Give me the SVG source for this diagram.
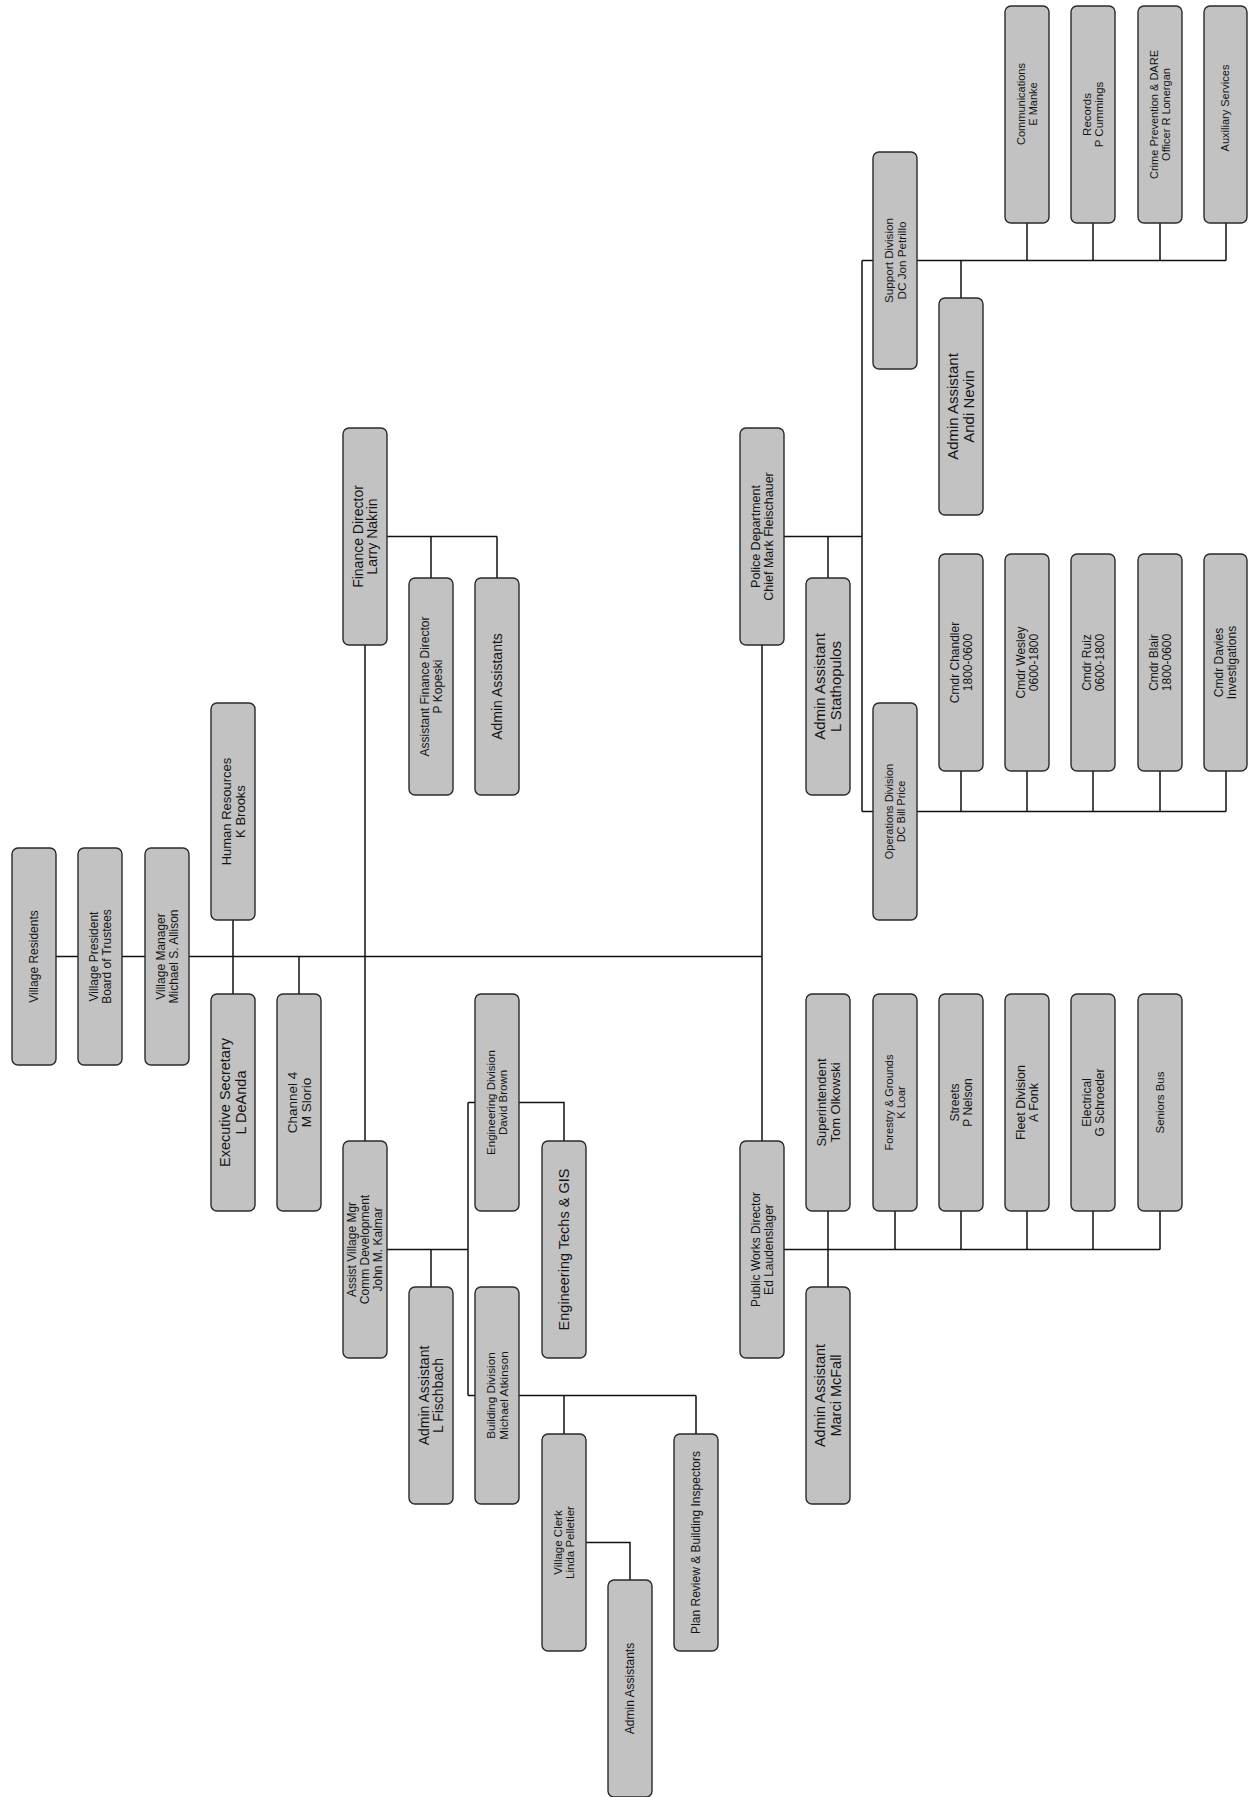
<svg xmlns="http://www.w3.org/2000/svg" width="1248" height="1797" viewBox="0 0 1248 1797">
<style>
.n{fill:#c2c2c2;stroke:#2a2a2a;stroke-width:1.4}
.t{font-family:"Liberation Sans",Arial,sans-serif;fill:#141414;text-anchor:middle}
.c{stroke:#111;stroke-width:1.5;fill:none}
</style>
<rect width="1248" height="1797" fill="#ffffff"/>
<g id="connectors">
<path class="c" d="M56,956.5H78 M122,956.5H145 M189,956.5H762 M233,920V994 M299,956.5V994 M365,645V1141 M762,645V1141"/>
<path class="c" d="M387,536.5H497 M431,536.5V578 M497,536.5V578"/>
<path class="c" d="M387,1249.5H468 M431,1249.5V1287 M468,1102.5V1395.5 M468,1102.5H475 M468,1395.5H475 M519,1102.5H564V1141 M519,1395.5H696 M564,1395.5V1434 M696,1395.5V1434 M586,1542.5H630V1580"/>
<path class="c" d="M784,536.5H862 M828,536.5V578 M862,260.5V811.5 M862,260.5H873 M862,811.5H873"/>
<path class="c" d="M917,260.5H1226 M961,260.5V298 M1027,223V260.5 M1093,223V260.5 M1160,223V260.5 M1226,223V260.5"/>
<path class="c" d="M917,811.5H1226 M961,771V811.5 M1027,771V811.5 M1093,771V811.5 M1160,771V811.5 M1226,771V811.5"/>
<path class="c" d="M784,1249.5H1160 M828,1211V1287 M895,1211V1249.5 M961,1211V1249.5 M1027,1211V1249.5 M1093,1211V1249.5 M1160,1211V1249.5"/>
</g>

<g id="village-residents"><rect class="n" x="12" y="848" width="44" height="217" rx="6"/><text class="t" font-size="12" transform="translate(34,956.5) rotate(-90)"><tspan x="0" y="4.2">Village Residents</tspan></text></g>
<g id="village-president"><rect class="n" x="78" y="848" width="44" height="217" rx="6"/><text class="t" font-size="12" transform="translate(100,956.5) rotate(-90)"><tspan x="0" y="-2.4">Village President</tspan><tspan x="0" y="10.8">Board of Trustees</tspan></text></g>
<g id="village-manager"><rect class="n" x="145" y="848" width="44" height="217" rx="6"/><text class="t" font-size="12" transform="translate(167,956.5) rotate(-90)"><tspan x="0" y="-2.4">Village Manager</tspan><tspan x="0" y="10.8">Michael S. Allison</tspan></text></g>
<g id="human-resources"><rect class="n" x="211" y="703" width="44" height="217" rx="6"/><text class="t" font-size="13" transform="translate(233,811.5) rotate(-90)"><tspan x="0" y="-2.4">Human Resources</tspan><tspan x="0" y="11.6">K Brooks</tspan></text></g>
<g id="executive-secretary"><rect class="n" x="211" y="994" width="44" height="217" rx="6"/><text class="t" font-size="14.5" transform="translate(233,1102.5) rotate(-90)"><tspan x="0" y="-2.6">Executive Secretary</tspan><tspan x="0" y="12.6">L DeAnda</tspan></text></g>
<g id="channel-4"><rect class="n" x="277" y="994" width="44" height="217" rx="6"/><text class="t" font-size="13.5" transform="translate(299,1102.5) rotate(-90)"><tspan x="0" y="-2.4">Channel 4</tspan><tspan x="0" y="12">M Slorio</tspan></text></g>
<g id="finance-director"><rect class="n" x="343" y="428" width="44" height="217" rx="6"/><text class="t" font-size="14" transform="translate(365,536.5) rotate(-90)"><tspan x="0" y="-2.5">Finance Director</tspan><tspan x="0" y="12.3">Larry Nakrin</tspan></text></g>
<g id="assistant-finance-director"><rect class="n" x="409" y="578" width="44" height="217" rx="6"/><text class="t" font-size="12" transform="translate(431,686.5) rotate(-90)"><tspan x="0" y="-2.4">Assistant Finance Director</tspan><tspan x="0" y="10.8">P Kopeski</tspan></text></g>
<g id="finance-admin-assistants"><rect class="n" x="475" y="578" width="44" height="217" rx="6"/><text class="t" font-size="14" transform="translate(497,686.5) rotate(-90)"><tspan x="0" y="4.9">Admin Assistants</tspan></text></g>
<g id="assist-village-mgr"><rect class="n" x="343" y="1141" width="44" height="217" rx="6"/><text class="t" font-size="12" transform="translate(365,1249.5) rotate(-90)"><tspan x="0" y="-8.6">Assist Village Mgr</tspan><tspan x="0" y="4.2">Comm Development</tspan><tspan x="0" y="17">John M. Kalmar</tspan></text></g>
<g id="admin-fischbach"><rect class="n" x="409" y="1287" width="44" height="217" rx="6"/><text class="t" font-size="14" transform="translate(431,1395.5) rotate(-90)"><tspan x="0" y="-2.5">Admin Assistant</tspan><tspan x="0" y="12.3">L Fischbach</tspan></text></g>
<g id="engineering-division"><rect class="n" x="475" y="994" width="44" height="217" rx="6"/><text class="t" font-size="11.5" transform="translate(497,1102.5) rotate(-90)"><tspan x="0" y="-2.2">Engineering Division</tspan><tspan x="0" y="10.4">David Brown</tspan></text></g>
<g id="engineering-techs"><rect class="n" x="542" y="1141" width="44" height="217" rx="6"/><text class="t" font-size="14.5" transform="translate(564,1249.5) rotate(-90)"><tspan x="0" y="5.1">Engineering Techs &amp; GIS</tspan></text></g>
<g id="building-division"><rect class="n" x="475" y="1287" width="44" height="217" rx="6"/><text class="t" font-size="11.8" transform="translate(497,1395.5) rotate(-90)"><tspan x="0" y="-2.3">Building Division</tspan><tspan x="0" y="10.7">Michael Atkinson</tspan></text></g>
<g id="village-clerk"><rect class="n" x="542" y="1434" width="44" height="217" rx="6"/><text class="t" font-size="11.5" transform="translate(564,1542.5) rotate(-90)"><tspan x="0" y="-2.2">Village Clerk</tspan><tspan x="0" y="10.4">Linda Pelletier</tspan></text></g>
<g id="clerk-admin-assistants"><rect class="n" x="608" y="1580" width="44" height="217" rx="6"/><text class="t" font-size="12" transform="translate(630,1688.5) rotate(-90)"><tspan x="0" y="4.2">Admin Assistants</tspan></text></g>
<g id="plan-review"><rect class="n" x="674" y="1434" width="44" height="217" rx="6"/><text class="t" font-size="12" transform="translate(696,1542.5) rotate(-90)"><tspan x="0" y="4.2">Plan Review &amp; Building Inspectors</tspan></text></g>
<g id="police-department"><rect class="n" x="740" y="428" width="44" height="217" rx="6"/><text class="t" font-size="12.5" transform="translate(762,536.5) rotate(-90)"><tspan x="0" y="-2.4">Police Department</tspan><tspan x="0" y="11.2">Chief Mark Fleischauer</tspan></text></g>
<g id="police-admin-assistant"><rect class="n" x="806" y="578" width="44" height="217" rx="6"/><text class="t" font-size="15" transform="translate(828,686.5) rotate(-90)"><tspan x="0" y="-2.7">Admin Assistant</tspan><tspan x="0" y="13">L Stathopulos</tspan></text></g>
<g id="operations-division"><rect class="n" x="873" y="703" width="44" height="217" rx="6"/><text class="t" font-size="11" transform="translate(895,811.5) rotate(-90)"><tspan x="0" y="-2.2">Operations Division</tspan><tspan x="0" y="10">DC Bill Price</tspan></text></g>
<g id="support-division"><rect class="n" x="873" y="152" width="44" height="217" rx="6"/><text class="t" font-size="11.7" transform="translate(895,260.5) rotate(-90)"><tspan x="0" y="-2.3">Support Division</tspan><tspan x="0" y="10.6">DC Jon Petrillo</tspan></text></g>
<g id="support-admin-assistant"><rect class="n" x="939" y="298" width="44" height="217" rx="6"/><text class="t" font-size="15" transform="translate(961,406.5) rotate(-90)"><tspan x="0" y="-2.7">Admin Assistant</tspan><tspan x="0" y="13">Andi Nevin</tspan></text></g>
<g id="cmdr-chandler"><rect class="n" x="939" y="554" width="44" height="217" rx="6"/><text class="t" font-size="12" transform="translate(961,662.5) rotate(-90)"><tspan x="0" y="-2.4">Cmdr Chandler</tspan><tspan x="0" y="10.8">1800-0600</tspan></text></g>
<g id="cmdr-wesley"><rect class="n" x="1005" y="554" width="44" height="217" rx="6"/><text class="t" font-size="12" transform="translate(1027,662.5) rotate(-90)"><tspan x="0" y="-2.4">Cmdr Wesley</tspan><tspan x="0" y="10.8">0600-1800</tspan></text></g>
<g id="cmdr-ruiz"><rect class="n" x="1071" y="554" width="44" height="217" rx="6"/><text class="t" font-size="12" transform="translate(1093,662.5) rotate(-90)"><tspan x="0" y="-2.4">Cmdr Ruiz</tspan><tspan x="0" y="10.8">0600-1800</tspan></text></g>
<g id="cmdr-blair"><rect class="n" x="1138" y="554" width="44" height="217" rx="6"/><text class="t" font-size="12" transform="translate(1160,662.5) rotate(-90)"><tspan x="0" y="-2.4">Cmdr Blair</tspan><tspan x="0" y="10.8">1800-0600</tspan></text></g>
<g id="cmdr-davies"><rect class="n" x="1204" y="554" width="43" height="217" rx="6"/><text class="t" font-size="12" transform="translate(1225.5,662.5) rotate(-90)"><tspan x="0" y="-2.4">Cmdr Davies</tspan><tspan x="0" y="10.8">Investigations</tspan></text></g>
<g id="communications"><rect class="n" x="1005" y="6" width="44" height="217" rx="6"/><text class="t" font-size="11" transform="translate(1027,104) rotate(-90)"><tspan x="0" y="-2.2">Communications</tspan><tspan x="0" y="10">E Manke</tspan></text></g>
<g id="records"><rect class="n" x="1071" y="6" width="44" height="217" rx="6"/><text class="t" font-size="11.5" transform="translate(1093,114.5) rotate(-90)"><tspan x="0" y="-2.2">Records</tspan><tspan x="0" y="10.4">P Cummings</tspan></text></g>
<g id="crime-prevention"><rect class="n" x="1138" y="6" width="44" height="217" rx="6"/><text class="t" font-size="11" transform="translate(1160,114.5) rotate(-90)"><tspan x="0" y="-2.2">Crime Prevention &amp; DARE</tspan><tspan x="0" y="10">Officer R Lonergan</tspan></text></g>
<g id="auxiliary-services"><rect class="n" x="1204" y="6" width="43" height="217" rx="6"/><text class="t" font-size="11" transform="translate(1225.5,108) rotate(-90)"><tspan x="0" y="3.9">Auxiliary Services</tspan></text></g>
<g id="public-works-director"><rect class="n" x="740" y="1141" width="44" height="217" rx="6"/><text class="t" font-size="12" transform="translate(762,1249.5) rotate(-90)"><tspan x="0" y="-2.4">Public Works Director</tspan><tspan x="0" y="10.8">Ed Laudenslager</tspan></text></g>
<g id="pw-admin-assistant"><rect class="n" x="806" y="1287" width="44" height="217" rx="6"/><text class="t" font-size="14.5" transform="translate(828,1395.5) rotate(-90)"><tspan x="0" y="-2.6">Admin Assistant</tspan><tspan x="0" y="12.6">Marci McFall</tspan></text></g>
<g id="superintendent"><rect class="n" x="806" y="994" width="44" height="217" rx="6"/><text class="t" font-size="13" transform="translate(828,1102.5) rotate(-90)"><tspan x="0" y="-2.4">Superintendent</tspan><tspan x="0" y="11.6">Tom Olkowski</tspan></text></g>
<g id="forestry-grounds"><rect class="n" x="873" y="994" width="44" height="217" rx="6"/><text class="t" font-size="11" transform="translate(895,1102.5) rotate(-90)"><tspan x="0" y="-2.2">Forestry &amp; Grounds</tspan><tspan x="0" y="10">K Loar</tspan></text></g>
<g id="streets"><rect class="n" x="939" y="994" width="44" height="217" rx="6"/><text class="t" font-size="12" transform="translate(961,1102.5) rotate(-90)"><tspan x="0" y="-2.4">Streets</tspan><tspan x="0" y="10.8">P Nelson</tspan></text></g>
<g id="fleet-division"><rect class="n" x="1005" y="994" width="44" height="217" rx="6"/><text class="t" font-size="12.5" transform="translate(1027,1102.5) rotate(-90)"><tspan x="0" y="-2.4">Fleet Division</tspan><tspan x="0" y="11.2">A Fonk</tspan></text></g>
<g id="electrical"><rect class="n" x="1071" y="994" width="44" height="217" rx="6"/><text class="t" font-size="12" transform="translate(1093,1102.5) rotate(-90)"><tspan x="0" y="-2.4">Electrical</tspan><tspan x="0" y="10.8">G Schroeder</tspan></text></g>
<g id="seniors-bus"><rect class="n" x="1138" y="994" width="44" height="217" rx="6"/><text class="t" font-size="11.5" transform="translate(1160,1102.5) rotate(-90)"><tspan x="0" y="4.1">Seniors Bus</tspan></text></g>
</svg>
